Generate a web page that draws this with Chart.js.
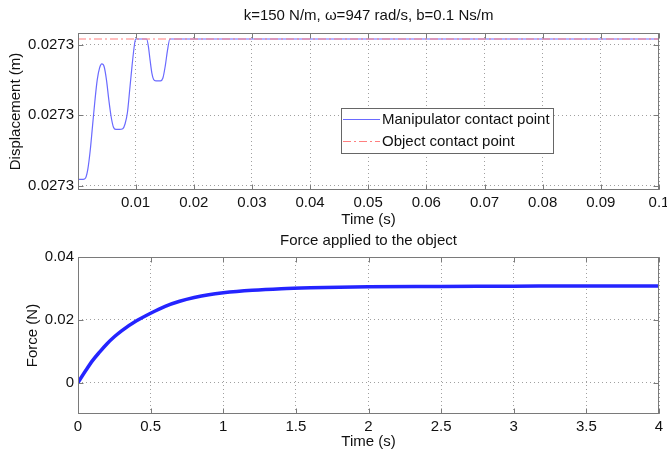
<!DOCTYPE html>
<html><head><meta charset="utf-8">
<script src="https://cdn.jsdelivr.net/npm/chart.js@4.4.1/dist/chart.umd.min.js"></script>
<style>
html,body{margin:0;padding:0;background:#fff;}
#wrap{position:relative;width:667px;height:454px;}
#c1{position:absolute;left:0;top:0;}
#c2{position:absolute;left:0;top:230px;}
</style></head><body>
<div id="wrap"><canvas id="c1" width="667" height="230"></canvas><canvas id="c2" width="667" height="224"></canvas></div>
<script>
// ---- data ----
const manipTime = [0.0001,0.0010,0.0014,0.0018,0.0022,0.0026,0.0030,0.0034,0.0038,0.0042,0.0046,0.0050,0.0054,0.0058,0.0062,0.0066,0.0072,0.0078,0.0082,0.0086,0.0090,0.0094,0.0098,0.0100,0.0119,0.0122,0.0125,0.0128,0.0131,0.0135,0.0143,0.0147,0.0151,0.0155,0.0159,0.1000];
const manipDisp = [0.02730009,0.02730009,0.02730011,0.02730024,0.0273005,0.02730085,0.0273012,0.0273015,0.02730167,0.02730173,0.02730169,0.0273015,0.02730122,0.02730098,0.02730083,0.0273008,0.0273008,0.02730081,0.02730088,0.02730104,0.02730137,0.02730171,0.027302,0.027302085,0.027302085,0.02730198,0.02730178,0.0273016,0.02730151,0.02730149,0.02730149,0.02730153,0.0273017,0.02730193,0.027302085,0.027302085];
const objectTime = [0.0001,0.1];
const objectDisp = [0.027302085,0.027302085];
const dispTicks = [0.0273,0.027301,0.027302];
const timeTicksTop = [0.01,0.02,0.03,0.04,0.05,0.06,0.07,0.08,0.09,0.1];
const forceTime = [0,0.05,0.1,0.15,0.2,0.25,0.3,0.4,0.5,0.6,0.7,0.8,0.9,1.0,1.2,1.4,1.6,1.8,2.0,2.5,3.0,3.5,4.0];
const forceValue = [0,0.0036,0.0070,0.0098,0.0124,0.0146,0.0165,0.0196,0.0221,0.0243,0.0259,0.0271,0.0280,0.0286,0.0294,0.0299,0.0302,0.0304,0.0305,0.0306,0.0307,0.0308,0.0308];
const forceTicks = [0,0.02,0.04];
const timeTicksBottom = [0,0.5,1,1.5,2,2.5,3,3.5,4];

const FONT = '"Liberation Sans", Arial, Helvetica, sans-serif';
Chart.defaults.font.family = FONT;
Chart.defaults.font.size = 15;
Chart.defaults.color = '#111';

const pts = (xs, ys) => xs.map((x,i)=>({x, y: ys[i]}));

const boxPlugin = {
  id: 'box',
  afterDatasetsDraw(chart){
    const {ctx, chartArea:a} = chart;
    const L=Math.round(a.left)+0.5, R=Math.round(a.right)-0.5, T=Math.round(a.top)+0.5, B=Math.round(a.bottom)-0.5;
    ctx.save();
    ctx.strokeStyle='#7a7a7a'; ctx.lineWidth=1; ctx.setLineDash([]);
    ctx.strokeRect(L, T, R-L, B-T);
    ctx.beginPath();
    const xs=chart.scales.x, ys=chart.scales.y;
    xs.ticks.forEach(t=>{const p=Math.round(xs.getPixelForValue(t.value))+0.5; ctx.moveTo(p,B); ctx.lineTo(p,B-5); ctx.moveTo(p,T); ctx.lineTo(p,T+5);});
    ys.ticks.forEach(t=>{const p=Math.round(ys.getPixelForValue(t.value))+0.5; ctx.moveTo(L,p); ctx.lineTo(L+5,p); ctx.moveTo(R,p); ctx.lineTo(R-5,p);});
    ctx.stroke();
    ctx.restore();
  }
};

// draws the chart title centred over the plot area (as MATLAB does)
const centeredTitle = {
  id: 'centeredTitle',
  afterDraw(chart, args, opts){
    const {ctx, chartArea:a} = chart;
    ctx.save();
    ctx.font = '15px ' + FONT;
    ctx.fillStyle = '#111';
    ctx.textAlign = 'center';
    ctx.textBaseline = 'middle';
    ctx.fillText(opts.text, (a.left + a.right) / 2, opts.y);
    ctx.restore();
  }
};

const legendBox = {
  id: 'legendBox',
  afterDraw(chart, args, opts){
    if (!opts || opts.w === undefined) return;
    const {ctx, chartArea:a} = chart;
    const x = Math.round(a.left + opts.dx), y = Math.round(a.top + opts.dy);
    ctx.save();
    ctx.fillStyle='#fff'; ctx.fillRect(x,y,opts.w,opts.h);
    ctx.strokeStyle='#666'; ctx.lineWidth=1; ctx.strokeRect(x+0.5,y+0.5,opts.w,opts.h);
    ctx.font = '15px ' + FONT;
    ctx.textBaseline='middle';
    chart.data.datasets.forEach((ds,i)=>{
      const cy = Math.round(y + opts.rowStart + i*opts.rowGap)+0.5;
      ctx.strokeStyle = ds.borderColor; ctx.lineWidth = 1; ctx.setLineDash(ds.borderDash||[]);
      ctx.beginPath(); ctx.moveTo(x+2, cy); ctx.lineTo(x+39, cy); ctx.stroke();
      ctx.setLineDash([]);
      ctx.fillStyle='#111';
      ctx.fillText(ds.label, x+41, cy);
    });
    ctx.restore();
  }
};

function xAxis(min, max, tickVals, fmt, titlePadBottom){
  return {
    type:'linear', min, max,
    afterBuildTicks: s => { s.ticks = tickVals.map(v=>({value:v})); },
    afterFit: s => { s.height = 40; s.paddingLeft = 0; s.paddingRight = 0; },
    ticks:{ padding:4, maxRotation:0, autoSkip:false, callback: v => fmt(v) },
    grid:{ color:'#a0a0a0', drawTicks:false, lineWidth:1 },
    border:{ display:false, dash:[1,3] },
    title:{ display:true, text:'Time (s)', color:'#111', font:{size:15}, padding:{top:0, bottom:titlePadBottom} }
  };
}
function yAxis(min, max, tickVals, fmt, label, titlePadTop){
  return {
    type:'linear', min, max,
    afterBuildTicks: s => { s.ticks = tickVals.map(v=>({value:v})); },
    afterFit: s => { s.width = 78; s.paddingTop = 0; s.paddingBottom = 0; },
    ticks:{ padding:4, autoSkip:false, callback: v => fmt(v) },
    grid:{ color:'#a0a0a0', drawTicks:false, lineWidth:1 },
    border:{ display:false, dash:[1,3] },
    title:{ display:true, text:label, color:'#111', font:{size:15}, padding:{top:titlePadTop, bottom:0} }
  };
}

const topTitle = 'k=150 N/m, \u03c9=947 rad/s, b=0.1 Ns/m';
const bottomTitle = 'Force applied to the object';

new Chart(document.getElementById('c1'), {
  type:'line',
  data:{ datasets:[
    { label:'Manipulator contact point', data: pts(manipTime, manipDisp), borderColor:'#6a6aff', borderWidth:1.2, pointRadius:0, cubicInterpolationMode:'monotone', fill:false, order:1 },
    { label:'Object contact point', data: pts(objectTime, objectDisp), borderColor:'#ff7f7f', borderWidth:1.2, borderDash:[8,3,2,3], pointRadius:0, fill:false, order:0 }
  ]},
  options:{
    responsive:false, animation:false, devicePixelRatio:1,
    layout:{ padding:{left:0, right:8, top:0, bottom:0} },
    plugins:{
      legend:{ display:false }, tooltip:{ enabled:false },
      title:{ display:true, text:topTitle, color:'rgba(0,0,0,0)', font:{size:15, weight:'normal'}, padding:{top:7, bottom:8} },
      centeredTitle:{ text:topTitle, y:16 },
      legendBox:{ dx:263, dy:75, w:212, h:45, rowStart:11, rowGap:22 }
    },
    scales:{
      x: xAxis(0.0001, 0.1, timeTicksTop, v => String(+v.toFixed(2)), 1),
      y: yAxis(0.027299939, 0.02730217, dispTicks, v => v.toFixed(4), 'Displacement (m)', 7)
    }
  },
  plugins:[boxPlugin, centeredTitle, legendBox]
});

new Chart(document.getElementById('c2'), {
  type:'line',
  data:{ datasets:[
    { label:'Force', data: pts(forceTime, forceValue), borderColor:'#2424ff', borderWidth:3.5, pointRadius:0, cubicInterpolationMode:'monotone', fill:false }
  ]},
  options:{
    responsive:false, animation:false, devicePixelRatio:1,
    layout:{ padding:{left:0, right:8, top:0, bottom:0} },
    plugins:{
      legend:{ display:false }, tooltip:{ enabled:false },
      title:{ display:true, text:bottomTitle, color:'rgba(0,0,0,0)', font:{size:15, weight:'normal'}, padding:{top:1.7, bottom:7.3} },
      centeredTitle:{ text:bottomTitle, y:10.7 }
    },
    scales:{
      x: xAxis(0, 4, timeTicksBottom, v => String(+v.toFixed(1)), 3),
      y: yAxis(-0.01, 0.04, forceTicks, v => String(+v.toFixed(2)), 'Force (N)', 24)
    }
  },
  plugins:[boxPlugin, centeredTitle]
});
</script>
</body></html>
